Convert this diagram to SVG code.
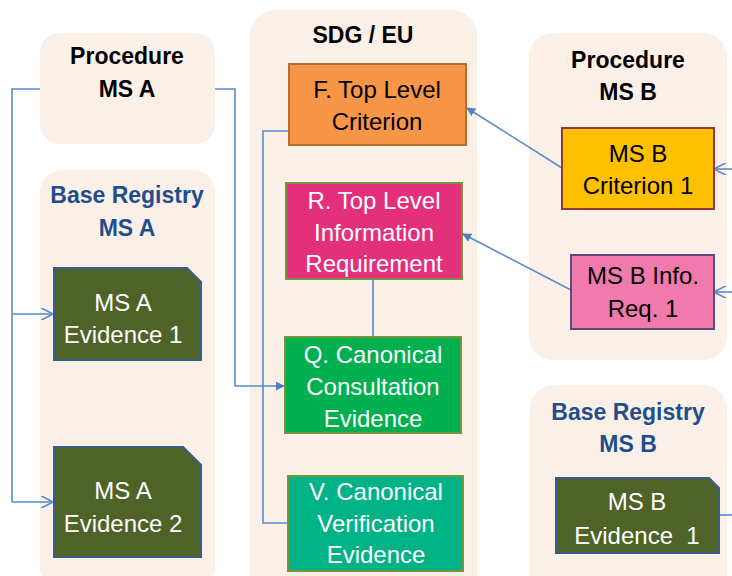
<svg xmlns="http://www.w3.org/2000/svg" width="732" height="576" viewBox="0 0 732 576">
<style>
.cont{fill:#FBF0E8;}
.t{font-family:"Liberation Sans",Arial,sans-serif;font-size:24px;text-anchor:middle;}
.h{font-family:"Liberation Sans",Arial,sans-serif;font-size:23px;font-weight:bold;text-anchor:middle;fill:#000;}
.hb{font-family:"Liberation Sans",Arial,sans-serif;font-size:23px;font-weight:bold;text-anchor:middle;fill:#1F4E8C;}
.w{fill:#fff;}
.k{fill:#000;}
.ev{fill:#4F6228;stroke:#385D8A;stroke-width:2;}
.ln{fill:none;stroke:#5B8BC9;stroke-width:1.6;}
</style>
<defs>
<marker id="fa" viewBox="0 0 10 10" refX="9" refY="5" markerWidth="9" markerHeight="9" markerUnits="userSpaceOnUse" orient="auto"><path d="M0,0 L10,5 L0,10 Z" fill="#4F81BD"/></marker>
<marker id="oa" viewBox="0 0 10 10" refX="9" refY="5" markerWidth="12" markerHeight="12" markerUnits="userSpaceOnUse" orient="auto"><path d="M0,0 L10,5 L0,10" fill="none" stroke="#5B8BC9" stroke-width="1.4"/></marker>
</defs>
<rect width="732" height="576" fill="#fff"/>

<g id="procedure-ms-a">
<rect class="cont" x="40" y="33" width="175" height="111" rx="20"/>
<text class="h" x="127" y="64">Procedure</text>
<text class="h" x="127" y="97">MS A</text>
</g>

<g id="base-registry-ms-a">
<rect class="cont" x="40" y="170" width="175" height="420" rx="22"/>
<text class="hb" x="127" y="203">Base Registry</text>
<text class="hb" x="127" y="236">MS A</text>
</g>

<g id="sdg-eu">
<rect class="cont" x="250" y="10" width="227" height="590" rx="26"/>
<text class="h" x="363" y="43">SDG / EU</text>
</g>

<g id="procedure-ms-b">
<rect class="cont" x="529" y="33" width="198" height="327" rx="24"/>
<text class="h" x="628" y="68">Procedure</text>
<text class="h" x="628" y="100">MS B</text>
</g>

<g id="base-registry-ms-b">
<rect class="cont" x="530" y="385" width="197" height="220" rx="24"/>
<text class="hb" x="628" y="420">Base Registry</text>
<text class="hb" x="628" y="452">MS B</text>
</g>

<g id="connectors">
<path class="ln" d="M40,89 H12 V502"/>
<path class="ln" d="M12,314 H52" marker-end="url(#oa)"/>
<path class="ln" d="M12,502 H52" marker-end="url(#oa)"/>
<path class="ln" d="M215,89 H235 V386 H284" marker-end="url(#fa)"/>
<path class="ln" d="M289,131 H263 V523 H288"/>
<path class="ln" d="M373,279 V337"/>
<path class="ln" d="M562,168 L467,108" marker-end="url(#fa)"/>
<path class="ln" d="M571,290 L463,234" marker-end="url(#fa)"/>
<path class="ln" d="M732,169 H715" marker-end="url(#oa)"/>
<path class="ln" d="M732,292 H715" marker-end="url(#oa)"/>
<path class="ln" d="M719,515 H732"/>
</g>

<g id="ms-a-evidence-1">
<path class="ev" d="M54,268 H187 L201,282 V360 H54 Z"/>
<text class="t w" x="123" y="311">MS A</text>
<text class="t w" x="123" y="343">Evidence 1</text>
</g>

<g id="ms-a-evidence-2">
<path class="ev" d="M54,447 H183 L201,465 V557 H54 Z"/>
<text class="t w" x="123" y="499">MS A</text>
<text class="t w" x="123" y="532">Evidence 2</text>
</g>

<g id="f-top-level-criterion">
<rect x="289" y="64" width="177" height="81" fill="#F79646" stroke="#B66D31" stroke-width="2"/>
<text class="t k" x="377" y="98">F. Top Level</text>
<text class="t k" x="377" y="130">Criterion</text>
</g>

<g id="r-top-level-information-requirement">
<rect x="286" y="183" width="176" height="96" fill="#E4307A" stroke="#77933C" stroke-width="2"/>
<text class="t w" x="374" y="209">R. Top Level</text>
<text class="t w" x="374" y="241">Information</text>
<text class="t w" x="374" y="272">Requirement</text>
</g>

<g id="q-canonical-consultation-evidence">
<rect x="285" y="337" width="176" height="96" fill="#00B050" stroke="#77933C" stroke-width="2"/>
<text class="t w" x="373" y="363">Q. Canonical</text>
<text class="t w" x="373" y="395">Consultation</text>
<text class="t w" x="373" y="427">Evidence</text>
</g>

<g id="v-canonical-verification-evidence">
<rect x="288" y="476" width="175" height="95" fill="#00B386" stroke="#77933C" stroke-width="2"/>
<text class="t w" x="376" y="500">V. Canonical</text>
<text class="t w" x="376" y="532">Verification</text>
<text class="t w" x="376" y="563">Evidence</text>
</g>

<g id="ms-b-criterion-1">
<rect x="562" y="128" width="152" height="81" fill="#FFC000" stroke="#953735" stroke-width="2"/>
<text class="t k" x="638" y="162">MS B</text>
<text class="t k" x="638" y="194">Criterion 1</text>
</g>

<g id="ms-b-info-req-1">
<rect x="571" y="255" width="143" height="74" fill="#F07AAC" stroke="#5F497A" stroke-width="2"/>
<text class="t k" x="643" y="284">MS B Info.</text>
<text class="t k" x="643" y="317">Req. 1</text>
</g>

<g id="ms-b-evidence-1">
<path class="ev" d="M556,478 H709 L719,488 V553 H556 Z"/>
<text class="t w" x="637" y="510">MS B</text>
<text class="t w" x="637" y="544" xml:space="preserve">Evidence  1</text>
</g>
</svg>
